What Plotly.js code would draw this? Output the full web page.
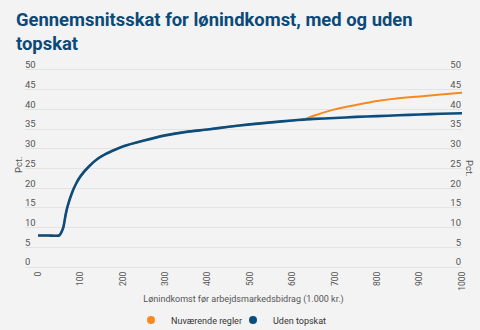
<!DOCTYPE html>
<html>
<head>
<meta charset="utf-8">
<script src="https://cdn.plot.ly/plotly-3.0.1.min.js"></script>
<style>html,body{margin:0;padding:0;background:#f3f3f3;}#chart{width:480px;height:330px;}</style>
</head>
<body>
<div id="chart"></div>
<script>
const income = [0, 25, 50, 55, 60, 65, 70, 80, 90, 100, 120, 140, 160, 180, 200, 250, 300, 350, 400, 450, 500, 550, 600, 625, 650, 700, 750, 800, 850, 900, 950, 1000];
const udenTopskat = [8, 8, 8, 8.8, 10.2, 13.2, 15.5, 18.8, 21.2, 23.0, 25.5, 27.4, 28.7, 29.7, 30.6, 32.1, 33.4, 34.3, 34.9, 35.6, 36.2, 36.7, 37.2, 37.4, 37.6, 37.8, 38.1, 38.3, 38.5, 38.7, 38.9, 39.0];
const nuvaerende = [8, 8, 8, 8.8, 10.2, 13.2, 15.5, 18.8, 21.2, 23.0, 25.5, 27.4, 28.7, 29.7, 30.6, 32.1, 33.4, 34.3, 34.9, 35.6, 36.2, 36.7, 37.2, 37.4, 38.4, 40.0, 41.1, 42.1, 42.8, 43.3, 43.8, 44.2];
const seriesNames = ["Nuværende regler", "Uden topskat"];
const yTicks = [0, 5, 10, 15, 20, 25, 30, 35, 40, 45, 50];
const xTicks = [0, 100, 200, 300, 400, 500, 600, 700, 800, 900, 1000];

const orange = "#f58a1f";
const blue = "#0b4d7c";
const font = "Roboto, 'Noto Sans', sans-serif";

const traces = [
  {x: income, y: nuvaerende, mode: "lines", line: {color: orange, width: 2, shape: "spline", smoothing: 0.5}, showlegend: false, hoverinfo: "skip"},
  {x: income, y: udenTopskat, mode: "lines", line: {color: blue, width: 2.6, shape: "spline", smoothing: 0.5}, showlegend: false, hoverinfo: "skip"},
  {x: [null], y: [null], mode: "markers", marker: {color: orange, size: 8}, name: seriesNames[0], legend: "legend"},
  {x: [null], y: [null], mode: "markers", marker: {color: blue, size: 8}, name: seriesNames[1], legend: "legend2"},
  {x: [null], y: [null], yaxis: "y2", mode: "lines", showlegend: false, hoverinfo: "skip"}
];

const yCommon = {
  range: [-0.5, 50.5], tickvals: yTicks, ticktext: yTicks.map(String),
  showgrid: true, gridcolor: "#e3e3e3", gridwidth: 1, zeroline: false, showline: false,
  ticks: "", ticklabelposition: "inside", ticklabeloverflow: "allow", ticklabelshift: -5,
  tickfont: {family: font, size: 9.5, color: "#555"}, fixedrange: true
};

const legendCommon = {
  orientation: "h", xanchor: "left", xref: "container",
  y: 10 / 330, yanchor: "middle", yref: "container",
  font: {family: font, size: 9, color: "#333"}, bgcolor: "rgba(0,0,0,0)", borderwidth: 0
};

const layout = {
  width: 480, height: 330,
  paper_bgcolor: "#f3f3f3", plot_bgcolor: "#f3f3f3",
  margin: {l: 25, r: 18, t: 67.5, b: 60.5},
  title: {
    text: "Gennemsnitsskat for lønindkomst, med og uden<br>topskat",
    font: {family: font, size: 18.4, color: "#0b4a78", weight: 700},
    x: 16 / 480, xref: "container", xanchor: "left",
    y: 1 - 26 / 330, yref: "container", yanchor: "top"
  },
  xaxis: {
    range: [-30.7, 1000], tickvals: xTicks, ticktext: xTicks.map(String),
    tickangle: -90, showgrid: false, zeroline: false, showline: false, ticks: "",
    tickfont: {family: font, size: 8.5, color: "#555"},
    title: {text: "Lønindkomst før arbejdsmarkedsbidrag (1.000 kr.)", font: {family: font, size: 9, color: "#555"}, standoff: 7}
  },
  yaxis: Object.assign({}, yCommon, {side: "left", ticklabelstandoff: -3}),
  yaxis2: Object.assign({}, yCommon, {side: "right", overlaying: "y", showgrid: false, ticklabelstandoff: -2}),
  legend: Object.assign({}, legendCommon, {x: 131 / 480}),
  legend2: Object.assign({}, legendCommon, {x: 233 / 480}),
  annotations: [
    {text: "Pct.", textangle: -90, x: 18, y: 165, xref: "paper", yref: "paper", showarrow: false},
    {text: "Pct.", textangle: 90, x: 470, y: 168, xref: "paper", yref: "paper", showarrow: false}
  ].map(a => Object.assign(a, {
    x: (a.x - 25) / 437, y: (330 - 60.5 - a.y) / 202,
    xanchor: "center", yanchor: "middle",
    font: {family: font, size: 9.5, color: "#555"}
  })),
  showlegend: true
};

Plotly.newPlot("chart", traces, layout, {displayModeBar: false, staticPlot: true});
</script>
</body>
</html>
